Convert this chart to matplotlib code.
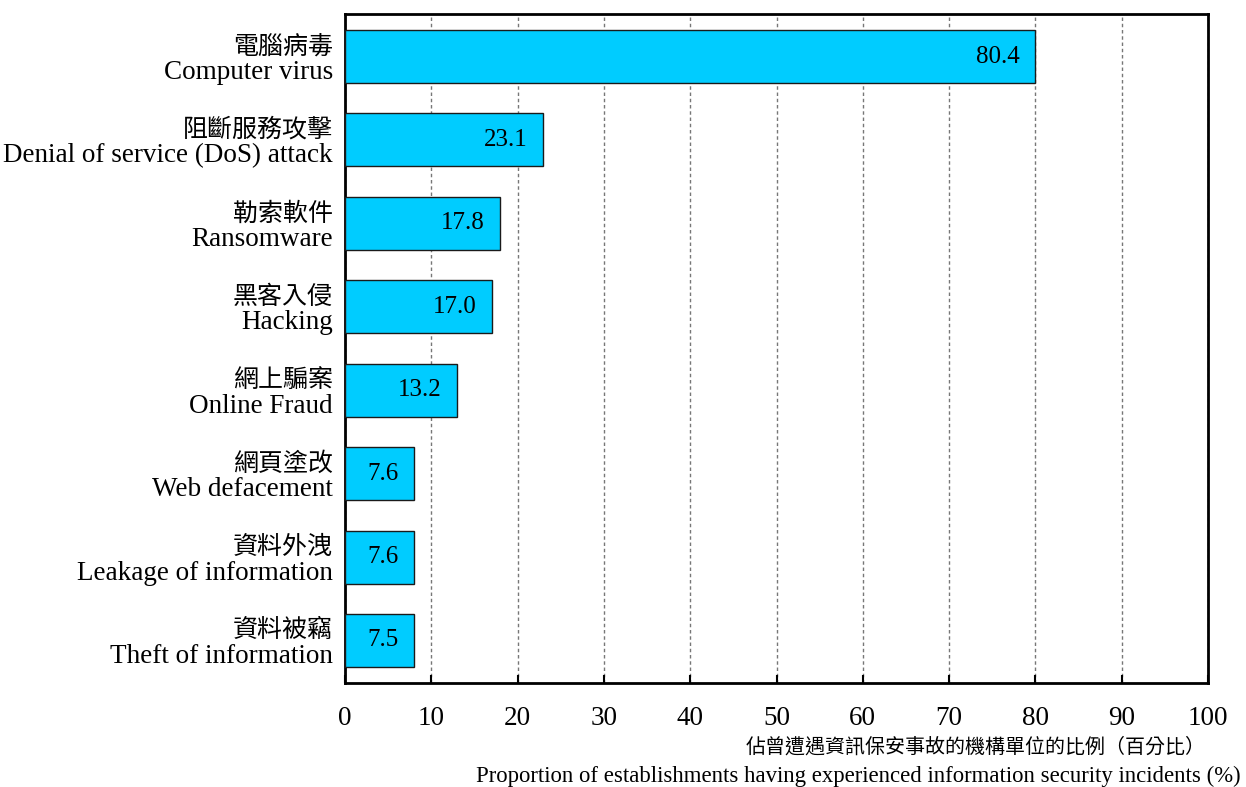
import matplotlib as mpl
import matplotlib.pyplot as plt
import matplotlib.transforms as mtransforms
import numpy as np

mpl.rcParams['font.family'] = ['Liberation Serif', 'Noto Sans CJK TC', 'DejaVu Sans']

labels_zh = ['電腦病毒', '阻斷服務攻擊', '勒索軟件', '黑客入侵',
             '網上騙案', '網頁塗改', '資料外洩', '資料被竊']
labels_en = ['Computer virus', 'Denial of service (DoS) attack', 'Ransomware', 'Hacking',
             'Online Fraud', 'Web defacement', 'Leakage of information', 'Theft of information']
values = [80.4, 23.1, 17.8, 17.0, 13.2, 7.6, 7.6, 7.5]

fig = plt.figure(figsize=(12.46, 7.87), dpi=100)
ax = fig.add_axes([345 / 1246, 1 - 683 / 787, (1208 - 345) / 1246, (683 - 14) / 787])

ypos = np.arange(len(values))
# bars in the source are drawn at the rounded value
rects = ax.barh(ypos, np.round(values), height=0.636, color='#00CCFF',
                edgecolor='#1a1a1a', linewidth=1, zorder=3)

for rect, v in zip(rects, values):
    ax.text(rect.get_width() - 1.8, rect.get_y() + rect.get_height() / 2, '%.1f' % v,
            ha='right', va='center', fontsize=18, zorder=4)

ax.set_xlim(0, 100)
ax.set_ylim(len(values) - 0.49, -0.51)
ax.set_xticks(range(0, 101, 10))
ax.xaxis.grid(True, linestyle=(0, (2.5, 2)), color='#777777', linewidth=1, zorder=0)
ax.tick_params(axis='x', direction='in', length=6, width=1.5, labelsize=19.5, pad=16.5, top=False)
ax.set_yticks([])
for s in ax.spines.values():
    s.set_linewidth(2)

# two-line category labels: Chinese above, English below
tr_zh = mtransforms.offset_copy(ax.get_yaxis_transform(), fig=fig, x=-12, y=10, units='dots')
tr_en = mtransforms.offset_copy(ax.get_yaxis_transform(), fig=fig, x=-12, y=-16, units='dots')
for i, (zh, en) in enumerate(zip(labels_zh, labels_en)):
    ax.text(0, i, zh, transform=tr_zh, ha='right', va='center', fontsize=18,
            family=['Noto Sans CJK TC'])
    ax.text(0, i, en, transform=tr_en, ha='right', va='center', fontsize=19.5)

fig.text(1206 / 1246, 1 - 747 / 787, '佔曾遭遇資訊保安事故的機構單位的比例（百分比）',
         ha='right', va='center', fontsize=14.4, family=['Noto Sans CJK TC'])
fig.text(1241 / 1246, 1 - 776 / 787,
         'Proportion of establishments having experienced information security incidents (%)',
         ha='right', va='center', fontsize=16.4)

fig.savefig('out.png', dpi=100)
